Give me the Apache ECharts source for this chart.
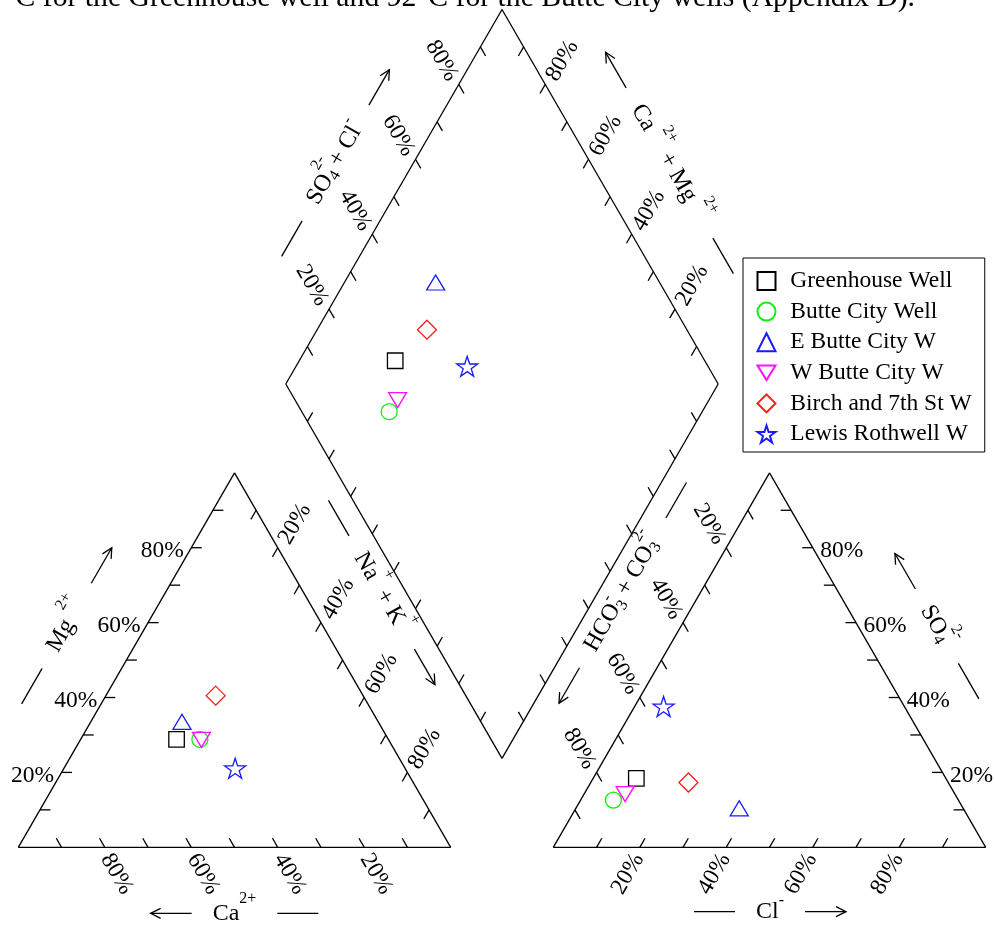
<!DOCTYPE html>
<html>
<head>
<meta charset="utf-8">
<script src="https://cdn.jsdelivr.net/npm/echarts@6.0.0/dist/echarts.min.js"></script>
<style>
html,body{margin:0;padding:0;background:#fff;}
#chart{width:995px;height:928px;}
</style>
</head>
<body>
<div id="chart"></div>
<script>
// ---------------- data (percent of meq) ----------------
const wells   = ['Greenhouse Well','Butte City Well','E Butte City W','W Butte City W','Birch and 7th St W','Lewis Rothwell W'];
const caPct   = [49.0, 43.6, 45.4, 43.3, 34.1, 39.3];
const mgPct   = [28.8, 28.8, 33.5, 28.7, 40.5, 21.1];
const naKPct  = [22.2, 27.6, 21.1, 28.0, 25.4, 39.6];
const hco3Pct = [71.6, 79.8, 51.8, 76.3, 60.1, 55.7];
const so4Pct  = [18.4, 12.6, 10.4, 14.2, 17.3, 37.6];
const clPct   = [10.0,  7.6, 37.8,  9.5, 22.6,  6.7];
const tickValues  = [10,20,30,40,50,60,70,80,90];
const labelValues = [20,40,60,80];
const headerText = '\u00b0C for the Greenhouse well and 92\u00b0C for the Butte City wells (Appendix D).';

// ---------------- geometry (side of triangle = 1 unit) ----------------
const FONT = 'Liberation Serif';
const h = Math.sqrt(3)/2;
const G = 0.2373;                 // gap between triangles
const OX = 1 + G;                 // x origin of anion triangle
const DB = [1 + G/2, G*h];        // diamond bottom
const DL = [0.5 + G/2, h*(1+G)];  // diamond left
const DT = [1 + G/2, h*(2+G)];    // diamond top
const DR = [1.5 + G/2, h*(1+G)];  // diamond right

function catPt(mg, nak){ return [nak + mg/2, mg*h]; }
function anPt(so4, cl){ return [OX + cl + so4/2, so4*h]; }
function diaPt(nak, s){ return [DL[0] + 0.5*nak + 0.5*s, DL[1] + h*(s - nak)]; }

// outlines
const segments = [];
function poly(pts){ for(let i=0;i<pts.length-1;i++) segments.push([pts[i][0],pts[i][1],pts[i+1][0],pts[i+1][1]]); }
poly([[0,0],[1,0],[0.5,h],[0,0]]);
poly([[OX,0],[OX+1,0],[OX+0.5,h],[OX,0]]);
poly([DB,DR,DT,DL,DB]);

// ticks
const TL = 10.5/432.4;
function lerp(P,Q,t){ return [P[0]+(Q[0]-P[0])*t, P[1]+(Q[1]-P[1])*t]; }
function ticks(P,Q,dir){
  tickValues.forEach(v=>{ const p=lerp(P,Q,v/100); segments.push([p[0],p[1],p[0]+dir[0]*TL,p[1]+dir[1]*TL]); });
}
ticks([0,0],[0.5,h],[1,0]);            // Mg
ticks([1,0],[0,0],[-0.5,h]);           // Ca
ticks([0.5,h],[1,0],[-0.5,-h]);        // Na+K
ticks([OX,0],[OX+1,0],[0.5,h]);        // Cl
ticks([OX+1,0],[OX+0.5,h],[-1,0]);     // SO4
ticks([OX+0.5,h],[OX,0],[0.5,-h]);     // HCO3
ticks(DL,DT,[0.5,-h]);                 // SO4+Cl
ticks(DR,DT,[-0.5,-h]);                // Ca+Mg
ticks(DL,DB,[0.5,h]);                  // Na+K (diamond)
ticks(DR,DB,[-0.5,h]);                 // HCO3 (diamond)

// tick labels
const labels = [];
function labs(P,Q,out,rot,align){
  labelValues.forEach(v=>labels.push({p:lerp(P,Q,v/100), d:out, rot, align, text:v+'%'}));
}
const R60 = Math.PI/3;
labs([0,0],[0.5,h],[-1,0],0,'right');
labs([1,0],[0,0],[0.5,-h],-R60,'left');
labs([0.5,h],[1,0],[0.5,h],R60,'left');
labs([OX,0],[OX+1,0],[-0.5,-h],R60,'right');
labs([OX+1,0],[OX+0.5,h],[1,0],0,'left');
labs([OX+0.5,h],[OX,0],[-0.5,h],-R60,'right');
labs(DL,DT,[-0.5,h],-R60,'right');
labs(DR,DT,[0.5,h],R60,'left');

// ---------------- axis titles (decoration) ----------------
const mctx = document.createElement('canvas').getContext('2d');
function tw(t,size){ mctx.font = size+'px "'+FONT+'"'; return mctx.measureText(t).width; }
function title(cx,cy,rot,parts,arrowAtEnd){
  const F=24, FS=16, GAP=21, LINE=41;
  let w=0; const pcs=[];
  parts.forEach(p=>{
    if(p.t!==undefined){ pcs.push({text:p.t,x:w,y:0,size:F}); w+=tw(p.t,F); }
    else {
      let ww=0;
      if(p.sup){ pcs.push({text:p.sup,x:w,y:(p.sup==='-'?-11:-15),size:FS}); ww=Math.max(ww,tw(p.sup,FS)); }
      if(p.sub){ pcs.push({text:p.sub,x:w,y:6,size:FS}); ww=Math.max(ww,tw(p.sub,FS)); }
      w+=ww;
    }
  });
  const total = 2*LINE + 2*GAP + w, x0 = -total/2, tx0 = x0+LINE+GAP;
  const ls = {stroke:'#000', lineWidth:1.3};
  const ch = [];
  pcs.forEach(p=>ch.push({type:'text', x:tx0+p.x, y:p.y, style:{text:p.text, fontSize:p.size, fontFamily:FONT, fill:'#000', align:'left', verticalAlign:'middle'}}));
  ch.push({type:'line', shape:{x1:x0,y1:0,x2:x0+LINE,y2:0}, style:ls});
  ch.push({type:'line', shape:{x1:x0+total-LINE,y1:0,x2:x0+total,y2:0}, style:ls});
  const tip = arrowAtEnd ? x0+total : x0, back = arrowAtEnd ? tip-10 : tip+10;
  ch.push({type:'polyline', shape:{points:[[back,-5],[tip,0],[back,5]]}, style:{stroke:'#000', lineWidth:1.3, fill:null}});
  return {type:'group', x:cx, y:cy, rotation:rot, children:ch};
}
const graphics = [
  title(66.7, 625.8,  R60, [{t:'Mg'},{t:' '},{sup:'2+'}], true),
  title(234.5, 913.3, 0,   [{t:'Ca'},{sup:'2+'}], false),
  title(381.7, 592.5, -R60,[{t:'Na'},{sup:'+'},{t:' + '},{t:'K'},{sup:'+'}], true),
  title(335.5, 163,   R60, [{t:'SO'},{sub:'4',sup:'2-'},{t:'+ '},{t:'Cl'},{sup:'-'}], true),
  title(669.5, 163,   -R60,[{t:'Ca '},{sup:'2+'},{t:' + '},{t:'Mg '},{sup:'2+'}], false),
  title(622.7, 592.9, R60, [{t:'HCO'},{sub:'3',sup:'-'},{t:' + '},{t:'CO'},{sub:'3',sup:'2-'}], false),
  title(936.9, 626.2, -R60,[{t:'SO'},{sub:'4',sup:'2-'}], false),
  title(770, 911.7,   0,   [{t:'Cl'},{sup:'-'}], true)
];
// header line of the document page (cut by the top edge)
const hdrSize = 24*900/tw(headerText.slice(1),24);
graphics.push({type:'text', x:915, y:7.5 - 0.305*hdrSize, style:{text:headerText, fontSize:hdrSize, fontFamily:FONT, fill:'#000', align:'right', verticalAlign:'middle'}});

// ---------------- series ----------------
function starPath(){
  let s='';
  for(let k=0;k<10;k++){ const r=k%2?0.382:1, a=-Math.PI/2+k*Math.PI/5; s+=(k?'L':'M')+(r*Math.cos(a)).toFixed(4)+','+(r*Math.sin(a)).toFixed(4); }
  return 'path://'+s+'Z';
}
const SYMBOLS = ['rect','circle','triangle','path://M0,0L2,0L1,1.6Z','diamond',starPath()];
const SIZES   = [15.5,16,[18,15],[18,15],[19,19],[21,20]];
const COLORS  = ['#000000','#11ee11','#1a1aff','#ff11ff','#ff1a1a','#1a1aff'];

const series = [];
series.push({
  type:'custom', name:'frame', silent:true, clip:false, z:2, animation:false,
  data: segments, encode:{x:[0,2], y:[1,3]},
  renderItem:(params,api)=>{
    const a=api.coord([api.value(0),api.value(1)]), b=api.coord([api.value(2),api.value(3)]);
    return {type:'line', shape:{x1:a[0],y1:a[1],x2:b[0],y2:b[1]}, style:{stroke:'#000', lineWidth:1.3}};
  }
});
series.push({
  type:'custom', name:'ticklabels', silent:true, clip:false, z:2, animation:false,
  data: labels.map(l=>[l.p[0],l.p[1]]), encode:{x:0, y:1},
  renderItem:(params,api)=>{
    const l=labels[params.dataIndex], c=api.coord([api.value(0),api.value(1)]), gap=7.5;
    return {type:'text', x:c[0]+l.d[0]*gap, y:c[1]-l.d[1]*gap, rotation:l.rot,
      style:{text:l.text, x:0, y:3, align:l.align, verticalAlign:'middle', fontSize:23.5, fontFamily:FONT, fill:'#000'}};
  }
});
wells.forEach((name,i)=>{
  series.push({
    type:'scatter', name, symbol:SYMBOLS[i], symbolSize:SIZES[i], z:5, silent:true, animation:false,
    itemStyle:{color:'rgba(0,0,0,0)', borderColor:COLORS[i], borderWidth:1.3, opacity:1},
    emphasis:{disabled:true},
    data:[
      catPt(mgPct[i]/100, naKPct[i]/100),
      anPt(so4Pct[i]/100, clPct[i]/100),
      diaPt(naKPct[i]/100, (so4Pct[i]+clPct[i])/100)
    ]
  });
});

const chart = echarts.init(document.getElementById('chart'), null, {renderer:'canvas'});
chart.setOption({
  backgroundColor:'#ffffff',
  animation:false,
  grid:{left:0, top:0, width:995, height:928, containLabel:false, outerBoundsMode:'none'},
  xAxis:{type:'value', min:-18.3/432.4, max:(995-18.3)/432.4, show:false, splitLine:{show:false}},
  yAxis:{type:'value', min:-(928-847.3)/432.4, max:847.3/432.4, show:false, splitLine:{show:false}},
  legend:{
    orient:'vertical', left:743, top:258, selectedMode:false,
    itemWidth:18, itemHeight:18, itemGap:6.6,
    padding:[11,13,6,13.5], borderColor:'#000', borderWidth:1, backgroundColor:'#fff',
    textStyle:{fontFamily:FONT, fontSize:23.5, color:'#000', lineHeight:24, padding:[0,0,0,9.8]},
    data: wells
  },
  graphic: graphics,
  series
});
</script>
</body>
</html>
